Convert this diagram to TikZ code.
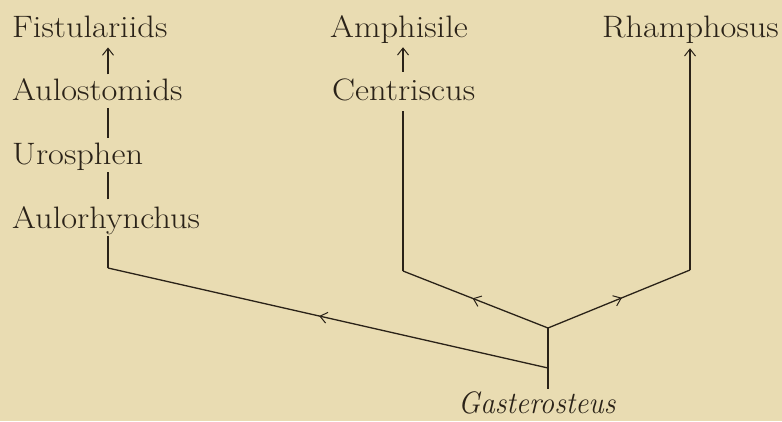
\documentclass[tikz,border=0pt]{standalone}
\usepackage{graphicx}
\usetikzlibrary{arrows.meta,decorations.markings}
\definecolor{paper}{HTML}{E9DCB2}
\definecolor{ink}{HTML}{2A2218}
\newcommand\widetxt[1]{\scalebox{1.11}[1]{#1}}
\newcommand\narrowtxt[1]{\scalebox{0.94}[1]{#1}}
\begin{document}
\begin{tikzpicture}[x=1pt,y=-1pt,
  lbl/.style={anchor=base west,inner sep=0pt,text=ink,font=\fontsize{31}{36}\selectfont},
  edge/.style={draw=ink,line width=1.3pt},
  barb/.style={-{Straight Barb[length=7pt,width=11pt,line width=1pt]}},
  midarrow/.style={postaction={decorate},decoration={markings,
     mark=at position #1 with {\arrow{Straight Barb[length=7pt,width=11pt,line width=1pt]}}}}
]
\fill[paper] (0,0) rectangle (782,421);
\useasboundingbox (0,0) rectangle (782,421);

% taxa
\node[lbl] (fist)  at (12,37)  {\widetxt{Fistulariids}};
\node[lbl] (aulos) at (12,100) {\widetxt{Aulostomids}};
\node[lbl] (uro)   at (12,164) {\widetxt{Urosphen}};
\node[lbl] (aulor) at (12,228) {\widetxt{Aulorhynchus}};
\node[lbl] (amph)  at (330,37) {\widetxt{Amphisile}};
\node[lbl] (cent)  at (332,100) {\widetxt{Centriscus}};
\node[lbl] (rham)  at (602,37) {\widetxt{Rhamphosus}};
\node[lbl,font=\fontsize{31}{36}\selectfont\itshape] (gast) at (458,413) {\narrowtxt{Gasterosteus}};

% junctions
\coordinate (jL) at (108,268);
\coordinate (jC) at (403,271);
\coordinate (jR) at (690,270);
\coordinate (jG) at (548,328);
\coordinate (jM) at (548,368);

% left column
\draw[edge,barb,shorten <=3.5pt,shorten >=10pt] (aulos.north -| jL) -- (fist.south -| jL);
\draw[edge,shorten <=4.5pt,shorten >=8pt] (uro.north -| jL) -- (aulos.south -| jL);
\draw[edge,shorten <=6.5pt,shorten >=2pt] (aulor.north -| jL) -- (uro.south -| jL);
\draw[edge,shorten >=2pt] (jL) -- (aulor.south -| jL);

% middle column
\draw[edge,barb,shorten <=6.5pt,shorten >=4pt] (cent.north -| jC) -- (amph.south -| jC);
\draw[edge,shorten >=10pt] (jC) -- (cent.south -| jC);

% right column
\draw[edge,barb,shorten >=5pt] (jR) -- (rham.south -| jR);

% branches
\draw[edge,midarrow=0.52] (jM) -- (jL);
\draw[edge,midarrow=0.52] (jG) -- (jC);
\draw[edge,midarrow=0.52] (jG) -- (jR);
\draw[edge,shorten >=2pt] (jG) -- (gast.north -| jG);
\end{tikzpicture}
\end{document}
